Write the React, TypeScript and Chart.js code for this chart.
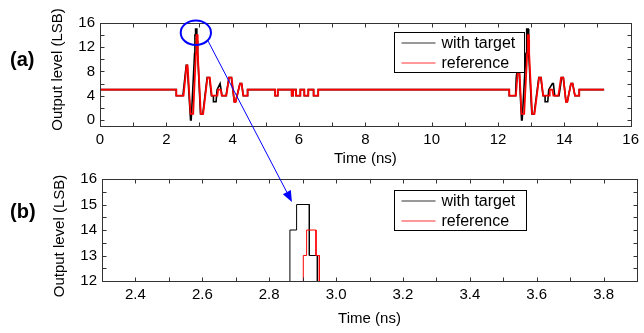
import { useEffect, useRef } from "react";
import { Chart, registerables } from "chart.js";

Chart.register(...registerables);

// ---- data (time in ns, output level in LSB) ----
const withTargetTime = [
  0, 2.30, 2.30, 2.50, 2.60, 2.63, 2.73, 2.75, 2.852, 2.862,
  2.862, 2.882, 2.882, 2.920, 2.920, 2.944, 2.944, 3.03, 3.10, 3.23,
  3.30, 3.36, 3.42, 3.42, 3.50, 3.53, 3.62, 3.64, 3.68, 3.80,
  3.89, 3.96, 4.05, 4.09, 4.22, 4.27, 4.32, 4.45, 4.45,
  5.28, 5.28, 5.36, 5.36, 5.78, 5.78, 5.82, 5.82, 5.91, 5.91, 6.04, 6.04,
  6.16, 6.16, 6.28, 6.28, 6.44, 6.44, 6.58, 6.58,
  12.34, 12.34, 12.53, 12.55, 12.57, 12.60, 12.63, 12.71, 12.73, 12.842,
  12.852, 12.852, 12.872, 12.872, 12.910, 12.910, 12.934, 12.934, 13.02, 13.09,
  13.23, 13.29, 13.36, 13.42, 13.42, 13.50, 13.53, 13.64, 13.67, 13.71,
  13.84, 13.92, 13.97, 14.05, 14.09, 14.20, 14.25, 14.32, 14.45, 14.45,
  15.2,
];
const withTargetLevel = [
  5, 5, 4, 4, 9, 9, 0, 0, 11, 11,
  14, 14, 15, 15, 13, 13, 11, 1, 1, 7,
  7, 4, 4, 3, 3, 5, 6, 6, 4, 4,
  7, 7, 3, 3, 6, 6, 4, 4, 5,
  5, 4, 4, 5, 5, 4, 4, 5, 5, 4, 4, 5,
  5, 4, 4, 5, 5, 4, 4, 5,
  5, 4, 4, 7, 7, 9, 9, 0, 0, 11,
  11, 14, 14, 15, 15, 13, 13, 11, 1, 1,
  7, 7, 4, 4, 3, 3, 5, 6, 6, 4,
  4, 7, 7, 3, 3, 6, 6, 4, 4, 5,
  5,
];
const referenceTime = [
  0, 2.30, 2.30, 2.52, 2.61, 2.64, 2.73, 2.81, 2.892, 2.902,
  2.902, 2.912, 2.912, 2.940, 2.940, 2.950, 2.950, 3.04, 3.11, 3.24,
  3.31, 3.37, 3.54, 3.56, 3.64, 3.67, 3.81, 3.89, 3.97, 4.05,
  4.09, 4.22, 4.27, 4.32, 4.45, 4.45,
  5.28, 5.28, 5.36, 5.36, 5.78, 5.78, 5.82, 5.82, 5.91, 5.91, 6.04, 6.04,
  6.16, 6.16, 6.28, 6.28, 6.44, 6.44, 6.58, 6.58,
  12.34, 12.34, 12.54, 12.61, 12.64, 12.71, 12.79, 12.882, 12.892, 12.892,
  12.902, 12.902, 12.930, 12.930, 12.940, 12.940, 13.03, 13.10, 13.24, 13.30,
  13.36, 13.54, 13.56, 13.64, 13.67, 13.82, 13.90, 13.97, 14.05, 14.09,
  14.20, 14.25, 14.32, 14.45, 14.45, 15.2,
];
const referenceLevel = [
  5, 5, 4, 4, 9, 9, 1, 1, 11, 11,
  13, 13, 14, 14, 13, 13, 11, 1, 1, 7,
  7, 4, 4, 5, 5, 4, 4, 7, 7, 3,
  3, 6, 6, 4, 4, 5,
  5, 4, 4, 5, 5, 4, 4, 5, 5, 4, 4, 5,
  5, 4, 4, 5, 5, 4, 4, 5,
  5, 4, 4, 9, 9, 1, 1, 11, 11, 13,
  13, 14, 14, 13, 13, 11, 1, 1, 7, 7,
  4, 4, 5, 5, 4, 4, 7, 7, 3, 3,
  6, 6, 4, 4, 5, 5,
];

const seriesLabels = ["with target", "reference"];
const yTitle = "Output level (LSB)";
const xTitle = "Time (ns)";
const topXTicks = [0, 2, 4, 6, 8, 10, 12, 14, 16];
const topYTicks = [0, 4, 8, 12, 16];
const bottomXTicks = [2.4, 2.6, 2.8, 3.0, 3.2, 3.4, 3.6, 3.8];
const bottomYTicks = [12, 13, 14, 15, 16];

const topXMarks = [1, 2, 3, 4, 5, 6, 7, 8, 9, 10, 11, 12, 13, 14, 15];
const topYMarks = [0, 2, 4, 6, 8, 10, 12, 14];
const bottomXMarks = [2.4, 2.5, 2.6, 2.7, 2.8, 2.9, 3.0, 3.1, 3.2, 3.3, 3.4, 3.5, 3.6, 3.7, 3.8];
const bottomYMarks = [12.5, 13, 13.5, 14, 14.5, 15, 15.5];

const FONT = "'Liberation Sans', Arial, sans-serif";
const RED = "#ff0000";
const BLACK = "#000000";

type Pt = { x: number; y: number };
const toPoints = (t: number[], v: number[]): Pt[] => t.map((x, i) => ({ x, y: v[i] }));

function framePlugin(xMarks: number[], yMarks: number[], len: number) {
  return {
    id: "frame",
    afterDatasetsDraw(chart: any) {
      const { ctx, chartArea: a, scales } = chart;
      ctx.save();
      ctx.strokeStyle = "#333";
      ctx.lineWidth = 1;
      ctx.beginPath();
      const L = Math.round(a.left) + 0.5;
      const R = Math.round(a.right) + 0.5;
      const T = Math.round(a.top) + 0.5;
      const B = Math.round(a.bottom) + 0.5;
      for (const v of xMarks) {
        const px = Math.round(scales.x.getPixelForValue(v)) + 0.5;
        ctx.moveTo(px, T);
        ctx.lineTo(px, T + len);
        ctx.moveTo(px, B);
        ctx.lineTo(px, B - len);
      }
      for (const v of yMarks) {
        const py = Math.round(scales.y.getPixelForValue(v)) + 0.5;
        ctx.moveTo(L, py);
        ctx.lineTo(L + len, py);
        ctx.moveTo(R, py);
        ctx.lineTo(R - len, py);
      }
      ctx.stroke();
      ctx.strokeRect(L, T, R - L, B - T);
      ctx.restore();
    },
  };
}

function yTitlePlugin(x: number, dy: number) {
  return {
    id: "yTitle",
    afterDraw(chart: any) {
      const { ctx, chartArea: a } = chart;
      ctx.save();
      ctx.translate(x, (a.top + a.bottom) / 2 + dy);
      ctx.rotate(-Math.PI / 2);
      ctx.font = `15px ${FONT}`;
      ctx.fillStyle = "#000";
      ctx.textAlign = "center";
      ctx.textBaseline = "middle";
      ctx.fillText(yTitle, 0, 0);
      ctx.restore();
    },
  };
}

function legendPlugin(box: { dx: number; dy: number; w: number; h: number }) {
  return {
    id: "boxLegend",
    afterDraw(chart: any) {
      const { ctx, chartArea: a } = chart;
      const x0 = Math.round(a.left + box.dx) + 0.5;
      const y0 = Math.round(a.top + box.dy) + 0.5;
      ctx.save();
      ctx.fillStyle = "#fff";
      ctx.fillRect(x0, y0, box.w, box.h);
      ctx.strokeStyle = "#000";
      ctx.lineWidth = 1;
      ctx.strokeRect(x0, y0, box.w, box.h);
      const items = [
        { label: seriesLabels[0], color: BLACK },
        { label: seriesLabels[1], color: RED },
      ];
      ctx.font = `16px ${FONT}`;
      ctx.textBaseline = "middle";
      ctx.textAlign = "left";
      items.forEach((it, i) => {
        const y = Math.round(y0 + box.h * (0.25 + 0.5 * i));
        ctx.strokeStyle = it.color;
        ctx.globalAlpha = 0.8;
        ctx.beginPath();
        ctx.moveTo(x0 + 7, y);
        ctx.lineTo(x0 + 41, y);
        ctx.stroke();
        ctx.globalAlpha = 1;
        ctx.fillStyle = "#000";
        ctx.fillText(it.label, x0 + 47, y + 0.5);
      });
      ctx.restore();
    },
  };
}

const ellipsePlugin = {
  id: "ellipse",
  afterDraw(chart: any) {
    const { ctx, scales } = chart;
    const cx = scales.x.getPixelForValue(2.89);
    const cy = scales.y.getPixelForValue(14.4);
    const rx = Math.abs(scales.x.getPixelForValue(2.89 + 0.456) - cx);
    const ry = Math.abs(scales.y.getPixelForValue(14.4 + 2.02) - cy);
    ctx.save();
    ctx.strokeStyle = "#0000ff";
    ctx.lineWidth = 2;
    ctx.beginPath();
    ctx.ellipse(cx, cy, rx, ry, 0, 0, Math.PI * 2);
    ctx.stroke();
    ctx.restore();
  },
};

function arrowPlugin(getTop: () => any) {
  return {
    id: "arrow",
    afterDraw(chart: any) {
      const top = getTop();
      if (!top) return;
      const { ctx, scales } = chart;
      const x1 = top.scales.x.getPixelForValue(3.248);
      const y1 = top.scales.y.getPixelForValue(13.13);
      const x2 = scales.x.getPixelForValue(2.868);
      const y2 = scales.y.getPixelForValue(15.1);
      const ang = Math.atan2(y2 - y1, x2 - x1);
      const hl = 11;
      const hw = 4.5;
      const bx = x2 - hl * Math.cos(ang);
      const by = y2 - hl * Math.sin(ang);
      ctx.save();
      ctx.strokeStyle = "#0000ff";
      ctx.fillStyle = "#0000ff";
      ctx.lineWidth = 1;
      ctx.beginPath();
      ctx.moveTo(x1, y1);
      ctx.lineTo(bx, by);
      ctx.stroke();
      ctx.beginPath();
      ctx.moveTo(x2, y2);
      ctx.lineTo(bx + hw * Math.sin(ang), by - hw * Math.cos(ang));
      ctx.lineTo(bx - hw * Math.sin(ang), by + hw * Math.cos(ang));
      ctx.closePath();
      ctx.fill();
      ctx.restore();
    },
  };
}

function axis(min: number, max: number, ticks: number[], title: string | null, size: (s: any) => void, fmt: (v: number) => string) {
  return {
    type: "linear" as const,
    min,
    max,
    afterBuildTicks: (s: any) => {
      s.ticks = ticks.map((value) => ({ value }));
    },
    afterFit: size,
    grid: { display: false, drawTicks: false },
    border: { display: false },
    ticks: {
      padding: 5,
      color: "#000",
      autoSkip: false,
      maxRotation: 0,
      font: { size: 15, family: FONT },
      callback: (v: any) => fmt(Number(v)),
    },
    title: { display: !!title, text: title || "", color: "#000", padding: 0, font: { size: 15, family: FONT } },
  };
}

export default function App() {
  const c1 = useRef<HTMLCanvasElement>(null);
  const c2 = useRef<HTMLCanvasElement>(null);

  useEffect(() => {
    const lineDs = (label: string, t: number[], v: number[], color: string, w: number) => ({
      label,
      data: toPoints(t, v),
      borderColor: color,
      backgroundColor: color,
      borderWidth: w,
      pointRadius: 0,
      tension: 0,
      fill: false,
    });

    const ch1 = new Chart(c1.current!, {
      type: "line",
      data: {
        datasets: [
          lineDs(seriesLabels[1], referenceTime, referenceLevel, RED, 1.8),
          lineDs(seriesLabels[0], withTargetTime, withTargetLevel, BLACK, 1.6),
        ],
      },
      options: {
        responsive: false,
        animation: false,
        devicePixelRatio: 1,
        layout: { padding: { top: 23, right: 7, bottom: 165, left: 49 } },
        plugins: { legend: { display: false }, tooltip: { enabled: false } },
        scales: {
          x: axis(0, 16, topXTicks, xTitle, (s) => { s.height = 42; }, (v) => String(v)),
          y: axis(-1, 16, topYTicks, null, (s) => { s.width = 51; }, (v) => String(v)),
        },
      } as any,
      plugins: [
        framePlugin(topXMarks, topYMarks, 4),
        legendPlugin({ dx: 294, dy: 9, w: 130, h: 40 }),
        ellipsePlugin,
        yTitlePlugin(58, -5),
      ],
    });

    const ch2 = new Chart(c2.current!, {
      type: "line",
      data: {
        datasets: [
          lineDs(seriesLabels[1], referenceTime, referenceLevel, RED, 1),
          lineDs(seriesLabels[0], withTargetTime, withTargetLevel, BLACK, 1),
        ],
      },
      options: {
        responsive: false,
        animation: false,
        devicePixelRatio: 1,
        layout: { padding: { top: 179, right: 7, bottom: 5, left: 49 } },
        plugins: { legend: { display: false }, tooltip: { enabled: false } },
        scales: {
          x: axis(2.3, 3.9, bottomXTicks, xTitle, (s) => { s.height = 47; }, (v) => v.toFixed(1)),
          y: axis(12, 16, bottomYTicks, null, (s) => { s.width = 53; }, (v) => String(v)),
        },
      } as any,
      plugins: [
        framePlugin(bottomXMarks, bottomYMarks, 4),
        legendPlugin({ dx: 292, dy: 11, w: 132, h: 40 }),
        yTitlePlugin(60, 6),
        arrowPlugin(() => ch1),
      ],
    });

    return () => {
      ch2.destroy();
      ch1.destroy();
    };
  }, []);

  const labelStyle: React.CSSProperties = {
    position: "absolute",
    left: 10,
    font: `bold 20px ${FONT}`,
    lineHeight: "20px",
    color: "#000",
  };

  return (
    <div style={{ position: "fixed", left: 0, top: 0, width: 644, height: 333, background: "#fff", overflow: "hidden" }}>
      <canvas ref={c1} width={644} height={333} style={{ position: "absolute", left: 0, top: 0 }} />
      <canvas ref={c2} width={644} height={333} style={{ position: "absolute", left: 0, top: 0 }} />
      <div style={{ ...labelStyle, top: 49 }}>(a)</div>
      <div style={{ ...labelStyle, top: 201 }}>(b)</div>
    </div>
  );
}
